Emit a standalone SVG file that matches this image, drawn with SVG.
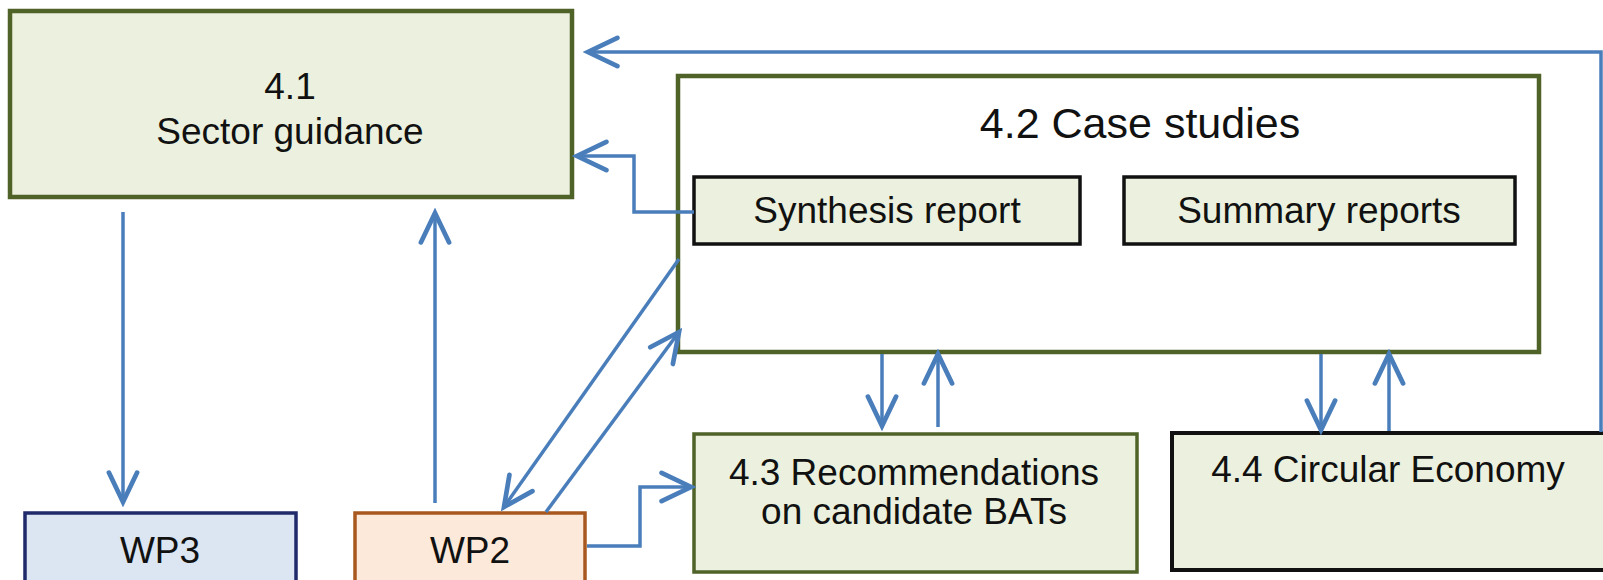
<svg xmlns="http://www.w3.org/2000/svg" width="1603" height="580" viewBox="0 0 1603 580">
<style>
.t{font-family:"Liberation Sans",Arial,sans-serif;font-size:37px;fill:#111;text-anchor:middle}
.g{fill:#EBF1DE;stroke:#4F6228}
.k{fill:#EBF1DE;stroke:#111}
.c{fill:none;stroke:#4A7EBB;stroke-width:3.5;marker-end:url(#ah)}
</style>
<defs>
<marker id="ah" markerUnits="userSpaceOnUse" markerWidth="40" markerHeight="40" viewBox="-30 -16 34 32" refX="0" refY="0" orient="auto">
<path d="M-25,-12 L0,0 L-25,12" fill="none" stroke="#4A7EBB" stroke-width="4" stroke-linecap="round" stroke-linejoin="miter"/>
</marker>
</defs>
<rect width="1603" height="580" fill="#fff"/>
<g id="n41">
<rect class="g" x="10" y="11" width="562" height="186" stroke-width="4.5"/>
<text class="t" x="290" y="99">4.1</text>
<text class="t" x="290" y="144">Sector guidance</text>
</g>
<g id="n42">
<rect x="678" y="76" width="861" height="276" fill="#fff" stroke="#4F6228" stroke-width="4.5"/>
<text class="t" x="1140" y="138" style="font-size:43px">4.2 Case studies</text>
</g>
<g id="synth">
<rect class="k" x="694" y="177" width="386" height="67" stroke-width="3.5"/>
<text class="t" x="887" y="223">Synthesis report</text>
</g>
<g id="summ">
<rect class="k" x="1124" y="177" width="391" height="67" stroke-width="3.5"/>
<text class="t" x="1319" y="223">Summary reports</text>
</g>
<g id="n43">
<rect class="g" x="694" y="434" width="443" height="138" stroke-width="3.5"/>
<text class="t" x="914" y="485">4.3 Recommendations</text>
<text class="t" x="914" y="524">on candidate BATs</text>
</g>
<g id="n44">
<rect class="k" x="1172" y="433" width="440" height="137" stroke-width="4"/>
<text class="t" x="1388" y="482">4.4 Circular Economy</text>
</g>
<g id="wp3">
<rect x="25" y="513" width="271" height="80" fill="#DCE6F2" stroke="#1F2A6B" stroke-width="3.5"/>
<text class="t" x="160" y="563">WP3</text>
</g>
<g id="wp2">
<rect x="355" y="513" width="230" height="80" fill="#FDE9D9" stroke="#A8581F" stroke-width="3.5"/>
<text class="t" x="470" y="563">WP2</text>
</g>
<g id="connectors">
<path class="c" d="M1601,432 V52 H588"/>
<path class="c" d="M694,212 H634 V156 H577"/>
<path class="c" d="M123,212 V502"/>
<path class="c" d="M435,503 V213"/>
<path class="c" d="M679,259 L504,507"/>
<path class="c" d="M546,512 L679,332"/>
<path class="c" d="M587,546 H640 V487 H691"/>
<path class="c" d="M882,354 V426"/>
<path class="c" d="M938,427 V354"/>
<path class="c" d="M1321,354 V430"/>
<path class="c" d="M1389,431 V354"/>
</g>
</svg>
